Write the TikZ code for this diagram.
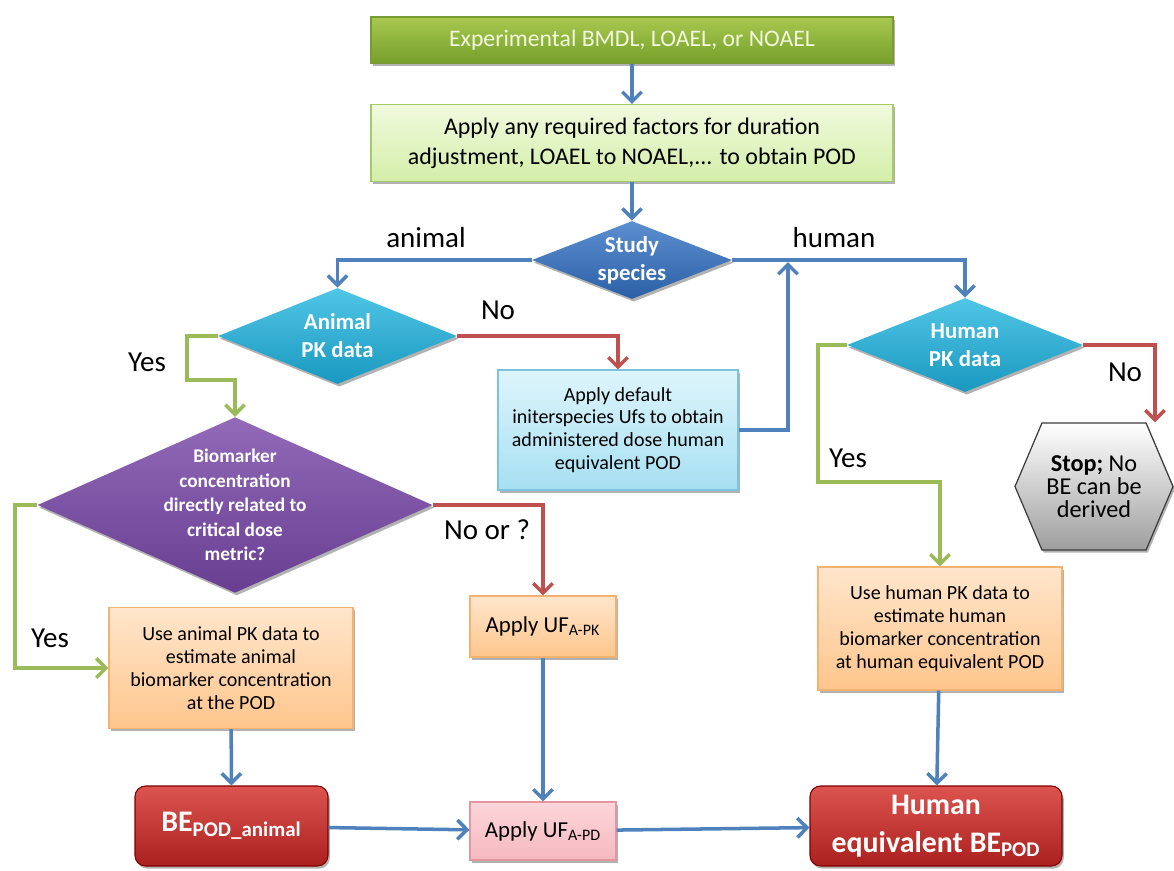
\documentclass[tikz,border=0pt]{standalone}
\usepackage{fontspec}
\setmainfont{Carlito}
\usetikzlibrary{arrows.meta,shapes.geometric,shapes.symbols,shadows}
\def\pxu{0.02cm}
\definecolor{lnblue}{HTML}{4F81BD}
\definecolor{lnred}{HTML}{C0504D}
\definecolor{lngreen}{HTML}{9BBB59}
\begin{document}
\begin{tikzpicture}[x=0.02cm,y=-0.02cm,
  sz/.style 2 args={minimum width=#1*\pxu, minimum height=#2*\pxu},
  shad/.style={drop shadow={shadow xshift=1pt, shadow yshift=-1.5pt, opacity=0.3, fill=black}},
  rbox/.style={rectangle, draw, line width=0.6pt, align=center, inner sep=2pt, shad},
  dia/.style={diamond, inner sep=0pt, align=center, text=white, shad},
  lab/.style={font=\fontsize{16.5}{18}\selectfont, inner sep=0pt},
  conn/.style={line width=2pt, -{Straight Barb[length=5.5pt,width=11pt]}},
  bl/.style={conn, draw=lnblue},
  rd/.style={conn, draw=lnred},
  gr/.style={conn, draw=lngreen},
  orangebox/.style={rbox, draw=orange!70!brown!60, top color=orange!20, bottom color=orange!45,
    font=\fontsize{11.4}{13}\selectfont},
  bebox/.style={rectangle, rounded corners=6pt, draw=red!50!black, line width=0.6pt, top color={rgb,255:red,220;green,84;blue,80},
    bottom color={rgb,255:red,170;green,32;blue,30}, text=white, align=center, shad,
    font=\bfseries\fontsize{17}{21.5}\selectfont}
]
\useasboundingbox (0,0) rectangle (1174,870);

% boxes
\node[rbox, sz={522}{46}, draw={rgb,255:red,120;green,155;blue,50}, top color={rgb,255:red,168;green,200;blue,80},
  bottom color={rgb,255:red,118;green,160;blue,42}, text={rgb,255:red,242;green,248;blue,222},
  font=\fontsize{13.5}{16}\selectfont] (top) at (632,40) {Experimental BMDL, LOAEL, or NOAEL};
\node[rbox, sz={522}{77}, draw={rgb,255:red,166;green,201;blue,106}, top color={rgb,255:red,240;green,250;blue,222},
  bottom color={rgb,255:red,212;green,238;blue,168}, font=\fontsize{13.6}{17}\selectfont] (adj) at (632,143)
  {Apply any required factors for duration\\adjustment, LOAEL to NOAEL,... to obtain POD};

\node[dia, sz={200}{78}, aspect=2.56, top color={rgb,255:red,92;green,143;blue,208}, bottom color={rgb,255:red,44;green,96;blue,166},
  font=\bfseries\fontsize{13}{16}\selectfont] (species) at (632,260) {Study\\species};

\node[dia, sz={239}{96}, aspect=2.49, top color={rgb,255:red,80;green,198;blue,230}, bottom color={rgb,255:red,26;green,152;blue,192},
  font=\bfseries\fontsize{13}{16}\selectfont] (apk) at (337.5,336) {Animal\\PK data};
\node[dia, sz={236}{94}, aspect=2.51, top color={rgb,255:red,80;green,198;blue,230}, bottom color={rgb,255:red,26;green,152;blue,192},
  font=\bfseries\fontsize{13}{16}\selectfont] (hpk) at (965,345) {Human\\PK data};

\node[dia, sz={373}{166}, aspect=2.25, top color={rgb,255:red,146;green,106;blue,184}, bottom color={rgb,255:red,104;green,62;blue,146},
  font=\bfseries\fontsize{11}{14}\selectfont] (bio) at (235,505)
  {Biomarker\\concentration\\directly related to\\critical dose\\metric?};

\node[rbox, sz={240}{120}, draw={rgb,255:red,124;green,196;blue,222}, top color={rgb,255:red,222;green,245;blue,252},
  bottom color={rgb,255:red,166;green,224;blue,242}, font=\fontsize{11.4}{13}\selectfont] (def) at (618,430)
  {Apply default\\initerspecies Ufs to obtain\\administered dose human\\equivalent POD};

\node[orangebox, sz={244}{121}] (abox) at (231,668)
  {Use animal PK data to\\estimate animal\\biomarker concentration\\at the  POD};
\node[orangebox, sz={146}{61}, font=\fontsize{13}{16}\selectfont] (ufpk) at (543,626.5) {Apply UF\textsubscript{A-PK}};
\node[orangebox, sz={244}{123}] (hbox) at (940,628.5)
  {Use human PK data to\\estimate human\\biomarker concentration\\at human equivalent POD};

\node[signal, signal to=east and west, signal pointer angle=134, sz={158}{127}, inner sep=0pt, draw={rgb,255:red,60;green,60;blue,60},
  line width=0.7pt, top color=white, bottom color=black!38, align=center, shad,
  font=\fontsize{13.8}{13.2}\selectfont] (stop) at (1094,486.5) {\textbf{Stop;} No\\BE can be\\derived};

\node[bebox, sz={193}{80}] (bea) at (231.5,826) {BE\textsubscript{POD\_animal}};
\node[rbox, sz={146}{58}, draw={rgb,255:red,226;green,150;blue,160}, top color={rgb,255:red,252;green,214;blue,218},
  bottom color={rgb,255:red,246;green,184;blue,192}, font=\fontsize{13}{16}\selectfont] (ufpd) at (543,831) {Apply UF\textsubscript{A-PD}};
\node[bebox, sz={252}{80}] (hbe) at (936,826) {Human\\equivalent BE\textsubscript{POD}};

% labels
\node[lab] (lanimal) at (426,238) {animal};
\node[lab] (lhuman) at (834,238) {human};
\node[lab] (lno1) at (498,310) {No};
\node[lab] (lyes1) at (147,362) {Yes};
\node[lab] (lno2) at (1125,372) {No};
\node[lab] (lyes2) at (848,458) {Yes};
\node[lab] (lnoor) at (487,530) {No or ?};
\node[lab] (lyes3) at (50,638) {Yes};

% connectors
\draw[bl] (top) -- (adj);
\draw[bl] (adj) -- (species);
\draw[bl] (species.west) -| (apk.north);
\draw[bl] (species.east) -| (hpk.north);
\draw[rd] (apk.east) -| (def.north);
\coordinate (join) at (788,262);
\draw[bl] (def.east) -| (join);
\draw[gr] (apk.west) -- (187,336) -- (187,380) -| (bio.north);
\draw[rd] (bio.east) -| (ufpk.north);
\draw[gr] (bio.west) -- (15,505) |- (abox.west);
\draw[gr] (hpk.west) -- (818,345) -- (818,482) -| (hbox.north);
\draw[rd] (hpk.east) -- (1155,345) -- (1155,0 |- stop.north);
\draw[bl] (abox) -- (bea);
\draw[bl] (ufpk) -- (ufpd);
\draw[bl] (hbox) -- (hbe);
\draw[bl] (bea) -- (ufpd);
\draw[bl] (ufpd) -- (hbe);
\end{tikzpicture}
\end{document}
